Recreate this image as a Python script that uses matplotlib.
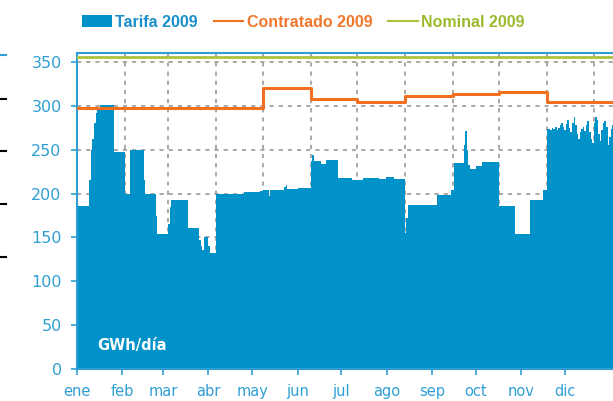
import numpy as np
import matplotlib
matplotlib.use('Agg')
import matplotlib.pyplot as plt
from matplotlib.patches import Patch
from matplotlib.lines import Line2D

# month starts (day of year) and labels
month_start = [0, 31, 59, 90, 120, 151, 181, 212, 243, 273, 304, 334]
month_labels = ['ene', 'feb', 'mar', 'abr', 'may', 'jun', 'jul', 'ago', 'sep', 'oct', 'nov', 'dic']

# Tarifa 2009, GWh/dia: day where a level starts and the level
tarifa_day = [0, 8, 9, 10, 11, 12, 13, 15, 24, 31, 34, 43, 44, 51, 52, 59, 60, 61, 72, 79, 80, 81, 82, 85, 86,
              90, 103, 108, 118, 120, 124, 125, 134, 135, 136, 143,
              151, 152, 153, 158, 161, 169, 178, 185, 195, 200, 205,
              212, 213, 214, 233, 242, 244, 250, 251, 252, 253, 254, 258, 262,
              273, 283, 293, 301,
              304, 305, 306, 307, 308, 309, 310, 311, 312, 313, 314, 315, 316, 317, 318, 319, 320,
              321, 322, 323, 324, 325, 326, 327, 328, 329, 330, 331, 332, 333, 334, 335, 336, 337,
              338, 339, 340, 341, 342, 343, 344, 345, 346, 347, 348, 349]
tarifa_val = [186, 215, 250, 262, 280, 292, 298, 301, 248, 200, 250, 215, 200, 175, 154, 165, 185, 193, 161, 147, 140, 136, 151, 140, 132,
              200, 199, 202, 203, 204, 197, 204, 208, 210, 205, 206,
              237, 244, 237, 234, 238, 218, 216, 218, 217, 219, 217,
              155, 172, 187, 198, 204, 235, 255, 271, 250, 233, 228, 231, 236,
              186, 154, 193, 204,
              274, 274, 273, 275, 274, 276, 273, 275, 278, 281, 276, 272, 279, 284, 275, 270, 281,
              287, 278, 268, 262, 270, 274, 276, 271, 278, 283, 270, 262, 258, 281, 287, 284, 268,
              260, 272, 281, 283, 276, 256, 265, 274, 278, 270, 268, 270]

# Contratado 2009 (monthly) and Nominal 2009
contratado = [297.5, 297.5, 297.5, 297.5, 321, 308, 304, 311, 313.5, 316, 305, 305]
nominal = [356] * 12

# x tick labels sit on a slightly compressed day scale in the original
tick_scale = 0.944

blue = '#0092C8'
label_blue = '#2F9FD3'
orange = '#F37021'
green = '#A9C23F'

fig = plt.figure(figsize=(6.13, 4.01), dpi=100)
ax = fig.add_axes([77 / 613, 1 - 369 / 401, 1 - 77 / 613, (369 - 53.3) / 401])

ax.fill_between(tarifa_day, tarifa_val, 0, step='post', color=blue, linewidth=0, zorder=2)

xm = month_start + [365]
ax.plot(xm, contratado + [contratado[-1]], drawstyle='steps-post', color=orange, lw=2.2, zorder=3)
ax.plot(xm, nominal + [nominal[-1]], drawstyle='steps-post', color=green, lw=2, zorder=3)

ax.set_xlim(0, 346.5)
ax.set_ylim(0, 360)

# dashed grid behind the area
for m in month_start[1:]:
    ax.axvline(m, color='#999999', lw=1.2, ls=(0, (2.5, 3)), zorder=1)
for v in range(50, 351, 50):
    ax.axhline(v, color='#999999', lw=1.2, ls=(0, (2.5, 3)), zorder=1)

ax.set_yticks(range(0, 351, 50))
ax.set_xticks([m * tick_scale for m in month_start])
ax.set_xticklabels(month_labels)
ax.tick_params(axis='y', direction='out', length=4, width=1.2, color=label_blue, labelcolor=label_blue,
               labelsize=11.5, pad=7)
ax.tick_params(axis='x', direction='out', length=4.5, width=1.2, color=label_blue, labelcolor=label_blue,
               labelsize=10.5, pad=6)

for s in ['left', 'top', 'bottom']:
    ax.spines[s].set_color(label_blue)
    ax.spines[s].set_linewidth(1.5)
ax.spines['right'].set_visible(False)

ax.text(0.037, 0.073, 'GWh/día', transform=ax.transAxes, color='white', fontsize=10.5,
        fontweight='bold', va='center', ha='left', zorder=4)

handles = [Patch(facecolor=blue, edgecolor='none'),
           Line2D([], [], color=orange, lw=1.5),
           Line2D([], [], color=green, lw=1.5)]
leg = fig.legend(handles, ['Tarifa 2009', 'Contratado 2009', 'Nominal 2009'], loc='center',
                 bbox_to_anchor=(0.495, 0.945), ncol=3, frameon=False, handlelength=1.85,
                 handletextpad=0.2, columnspacing=1.0,
                 prop={'family': 'Liberation Sans', 'weight': 'bold', 'size': 11.5})
for t, c in zip(leg.get_texts(), ['#1A8FC9', '#F0772C', '#9CBA2E']):
    t.set_color(c)

# cut-off tick marks of the neighbouring chart at the left edge
for yp, c in [(55, label_blue), (99, 'black'), (151, 'black'), (204, 'black'), (257, 'black')]:
    fig.add_artist(Line2D([0, 6 / 613], [1 - yp / 401] * 2, color=c, lw=1.5))

fig.savefig('out.png', dpi=100)
